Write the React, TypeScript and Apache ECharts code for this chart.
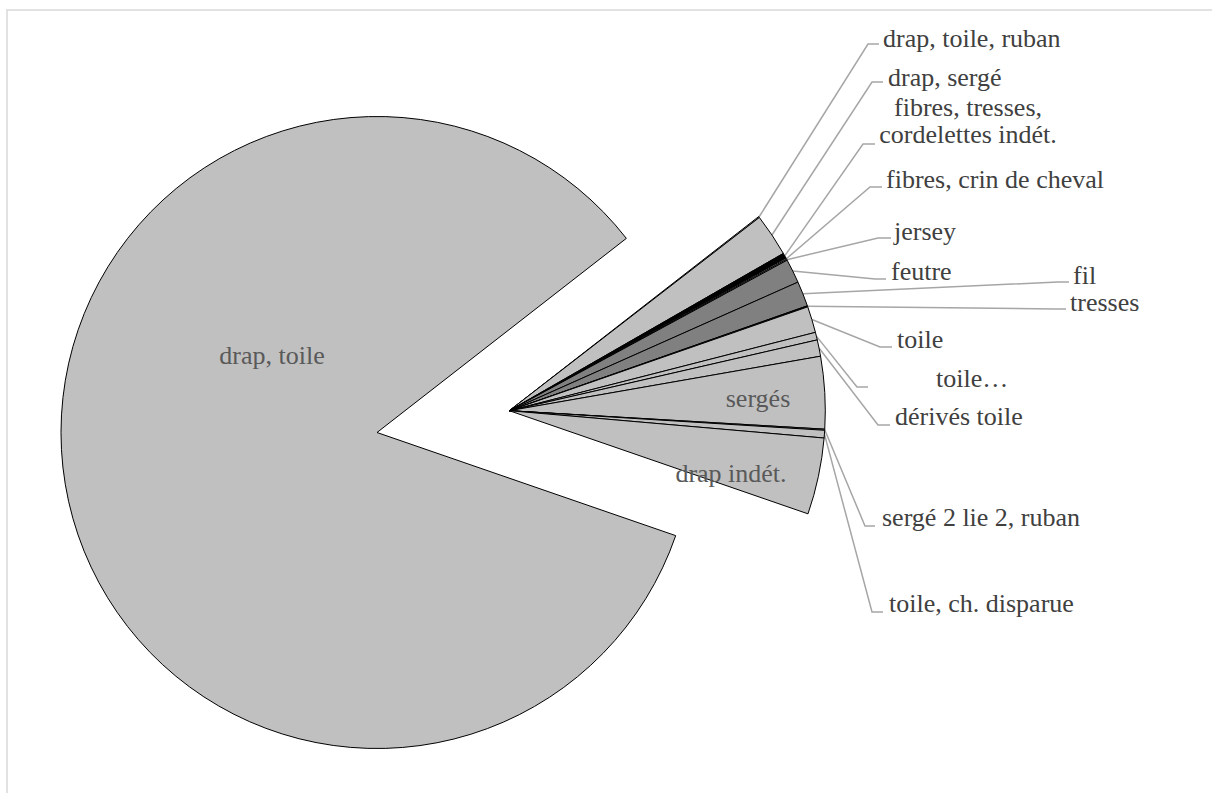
import React, { useEffect, useRef } from "react";
import * as echarts from "echarts";

// Slice names (clockwise order starting at the top edge of the small-slice wedge)
const NAMES = [
  "drap, toile, ruban",
  "drap, sergé",
  "fibres, tresses,\ncordelettes indét.",
  "fibres, crin de cheval",
  "jersey",
  "feutre",
  "fil",
  "tresses",
  "toile",
  "toile…",
  "dérivés toile",
  "sergés",
  "sergé 2 lie 2, ruban",
  "toile, ch. disparue",
  "drap indét.",
  "drap, toile",
];
// Values (estimated counts)
const VALUES = [1, 39, 5, 1, 1, 22, 23, 1, 24, 7, 15, 66, 1, 7, 70, 1506];

// Styles
const COLORS = [
  "#c0c0c0", "#c0c0c0", "#000000", "#ffffff", "#c0c0c0", "#808080", "#808080",
  "#000000", "#c0c0c0", "#c0c0c0", "#c0c0c0", "#c0c0c0", "#c0c0c0", "#c0c0c0",
  "#c0c0c0", "#c0c0c0",
];
const BIG = "drap, toile";
const INSIDE = ["sergés", "drap indét.", "drap, toile"];

// Label layout (pixel positions of label text and leader-line elbows)
type L = { x: number; y: number; align: string; ex?: number; ey?: number; hx?: number; hy?: number };
const LAYOUT: Record<string, L> = {
  "drap, toile, ruban": { x: 883, y: 38, align: "left", ex: 868, ey: 44, hx: 879, hy: 44 },
  "drap, sergé": { x: 888, y: 77, align: "left", ex: 872, ey: 82, hx: 883, hy: 82 },
  "fibres, tresses,\ncordelettes indét.": { x: 968, y: 121, align: "center", ex: 863, ey: 144, hx: 875, hy: 144 },
  "fibres, crin de cheval": { x: 886, y: 179, align: "left", ex: 870, ey: 187, hx: 882, hy: 187 },
  "jersey": { x: 894, y: 231, align: "left", ex: 878, ey: 238, hx: 891, hy: 238 },
  "feutre": { x: 891, y: 271, align: "left", ex: 875, ey: 279, hx: 886, hy: 279 },
  "fil": { x: 1073, y: 275, align: "left", ex: 1058, ey: 282, hx: 1069, hy: 282 },
  "tresses": { x: 1070, y: 302, align: "left", ex: 1055, ey: 309, hx: 1066, hy: 309 },
  "toile": { x: 897, y: 339, align: "left", ex: 880, ey: 347, hx: 892, hy: 347 },
  "toile…": { x: 936, y: 378, align: "left", ex: 857, ey: 387, hx: 868, hy: 387 },
  "dérivés toile": { x: 895, y: 416, align: "left", ex: 878, ey: 425, hx: 890, hy: 425 },
  "sergé 2 lie 2, ruban": { x: 882, y: 517, align: "left", ex: 865, ey: 526, hx: 875, hy: 526 },
  "toile, ch. disparue": { x: 889, y: 603, align: "left", ex: 872, ey: 612, hx: 883, hy: 612 },
  "sergés": { x: 758, y: 398, align: "center" },
  "drap indét.": { x: 731, y: 473, align: "center" },
  "drap, toile": { x: 272, y: 355, align: "center" },
};

const FONT = "'Liberation Serif', 'Times New Roman', serif";

function labelLayout(p: any) {
  const name = NAMES[p.dataIndex];
  const l = LAYOUT[name];
  if (!l) return {};
  const res: any = { x: l.x, y: l.y, align: l.align, verticalAlign: "middle" };
  if (l.ex != null && p.labelLinePoints && p.labelLinePoints.length) {
    const start = p.labelLinePoints[0];
    res.labelLinePoints = [
      [start[0], start[1]],
      [l.ex, l.ey],
      [l.hx, l.hy],
    ];
  }
  return res;
}

function buildData(showBig: boolean) {
  return NAMES.map((n, i) => {
    const visible = (n === BIG) === showBig;
    const inside = INSIDE.indexOf(n) >= 0;
    return {
      name: n,
      value: VALUES[i],
      itemStyle: visible
        ? { color: COLORS[i], borderColor: "#000000", borderWidth: 1 }
        : { color: "rgba(0,0,0,0)", borderWidth: 0 },
      label: visible
        ? {
            show: true,
            position: inside ? "inside" : "outside",
            color: inside ? "#595959" : "#404040",
          }
        : { show: false },
      labelLine: { show: visible && !inside },
    };
  });
}

export default function App() {
  const ref = useRef<HTMLDivElement>(null);
  useEffect(() => {
    document.body.style.margin = "0";
    if (!ref.current) return;
    const chart = echarts.init(ref.current, undefined, { renderer: "svg" });
    const common = {
      type: "pie",
      radius: 316,
      startAngle: 37.9,
      clockwise: true,
      avoidLabelOverlap: false,
      silent: true,
      emphasis: { disabled: true },
      label: {
        fontFamily: FONT,
        fontSize: 26,
        lineHeight: 27,
        color: "#404040",
      },
      labelLine: {
        lineStyle: { color: "#a6a6a6", width: 1.5 },
      },
      labelLayout,
    };
    chart.setOption({
      animation: false,
      backgroundColor: "#ffffff",
      graphic: [
        {
          type: "rect",
          shape: { x: 7, y: 10, width: 1400, height: 1000 },
          style: { fill: "none", stroke: "#d9d9d9", lineWidth: 1.5 },
          silent: true,
          z: -10,
        },
      ],
      series: [
        { ...common, name: "big", center: [377, 432.5], data: buildData(true) },
        { ...common, name: "small", center: [509.3, 410.7], data: buildData(false) },
      ],
    });
    return () => chart.dispose();
  }, []);
  return <div ref={ref} style={{ width: 1212, height: 793 }} />;
}
